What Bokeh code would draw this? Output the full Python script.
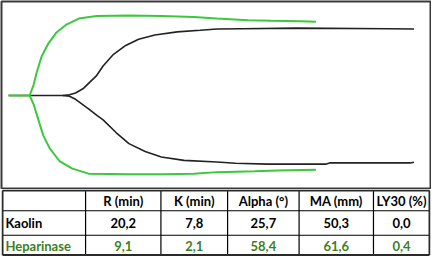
from bokeh.plotting import figure
from bokeh.layouts import column
from bokeh.models import Range1d
from bokeh.core.properties import value
from bokeh.embed import file_html
from bokeh.resources import INLINE

# ---- TEG tracing data (time in min, amplitude in mm) ----
hep_up_t = [1.77, 9.0, 10.33, 11.43, 13.1, 15.33, 18.1, 21.43, 25.9, 32.0, 43.0, 54.33, 65.33, 73.33, 84.0, 92.0, 102.0, 107.33]
hep_up_a = [0, 0, 4.07, 8.99, 15.17, 20.09, 24.42, 27.49, 29.97, 30.97, 31.19, 30.97, 30.6, 29.97, 29.34, 29.12, 28.97, 28.75]
hep_lo_t = [9.0, 10.33, 12.0, 13.67, 15.9, 19.23, 23.67, 29.23, 43.0, 54.33, 65.33, 73.33, 86.33, 94.0, 107.33]
hep_lo_a = [0, -3.33, -9.51, -15.54, -20.61, -25.53, -28.49, -30.45, -30.71, -30.71, -30.45, -29.86, -29.49, -29.23, -28.97]

kao_up_t = [1.77, 20.33, 22.67, 24.77, 27.57, 29.23, 32.0, 34.23, 37.57, 42.0, 46.43, 52.0, 59.67, 67.57, 73.33, 81.9, 100.67, 132.0, 141.0]
kao_up_a = [0, 0, 0.26, 1.0, 2.85, 4.7, 7.77, 11.47, 15.8, 19.5, 21.94, 23.57, 24.79, 25.42, 25.9, 26.0, 26.27, 26.0, 25.9]
kao_lo_t = [20.33, 22.67, 24.77, 29.23, 32.0, 34.23, 38.67, 43.1, 48.67, 54.23, 62.0, 73.33, 79.67, 90.67, 110.67, 112.0, 139.67, 141.0]
kao_lo_a = [0, -0.26, -1.48, -5.18, -7.66, -9.51, -14.43, -18.76, -21.83, -23.94, -25.27, -25.9, -26.38, -26.75, -26.75, -26.27, -26.27, -26.0]

# ---- table data ----
headers = ["R (min)", "K (min)", "Alpha (°)", "MA (mm)", "LY30 (%)"]
row_labels = ["Kaolin", "Heparinase"]
kaolin_vals = [20.2, 7.8, 25.7, 50.3, 0.0]
heparinase_vals = [9.1, 2.1, 58.4, 61.6, 0.4]

GREEN_LINE = "#3cc83c"
BLACK_LINE = "#222222"
GREEN_TEXT = "#3d7f22"
FONT = "Lato"
FSIZE = "13px"

# ---- chart ----
chart = figure(width=431, height=189, x_range=Range1d(-0.667, 146.67), y_range=Range1d(-36.63, 36.63),
               output_backend="svg", toolbar_location=None,
               min_border_left=1, min_border_right=1, min_border_top=1, min_border_bottom=0)
chart.xaxis.visible = False
chart.yaxis.visible = False
chart.grid.visible = False
chart.outline_line_color = "#3a3a3a"
chart.outline_line_width = 2
chart.background_fill_color = "white"
chart.border_fill_color = "white"

chart.line(kao_up_t, kao_up_a, line_color=BLACK_LINE, line_width=1.6)
chart.line(kao_lo_t, kao_lo_a, line_color=BLACK_LINE, line_width=1.6)
chart.line(hep_up_t, hep_up_a, line_color=GREEN_LINE, line_width=2)
chart.line(hep_lo_t, hep_lo_a, line_color=GREEN_LINE, line_width=2)

# ---- table ----
tbl = figure(width=431, height=67, x_range=Range1d(0.97, 445.03), y_range=Range1d(270.5, 199.5),
             output_backend="svg", toolbar_location=None, min_border=0)
tbl.xaxis.visible = False
tbl.yaxis.visible = False
tbl.grid.visible = False
tbl.outline_line_color = None
tbl.background_fill_color = "white"
tbl.border_fill_color = "white"

col_edges = [2, 88, 166, 235, 309, 386, 444]
row_edges = [200.5, 222, 248, 269]
row_mid = [211.5, 235.3, 259.3]

# inner lines
tbl.segment(x0=col_edges[1:-1], y0=[row_edges[0]] * 5, x1=col_edges[1:-1], y1=[row_edges[-1]] * 5,
            line_color="black", line_width=1.2)
tbl.segment(x0=[col_edges[0]] * 2, y0=row_edges[1:3], x1=[col_edges[-1]] * 2, y1=row_edges[1:3],
            line_color="black", line_width=1.2)
# outer lines
tbl.segment(x0=[col_edges[0], col_edges[-1]], y0=[row_edges[0]] * 2, x1=[col_edges[0], col_edges[-1]],
            y1=[row_edges[-1]] * 2, line_color="#2a2a2a", line_width=2)
tbl.segment(x0=[col_edges[0]] * 2, y0=[row_edges[0], row_edges[-1]], x1=[col_edges[-1]] * 2,
            y1=[row_edges[0], row_edges[-1]], line_color="#2a2a2a", line_width=2)

centers = [(col_edges[i] + col_edges[i + 1]) / 2 for i in range(1, 6)]

def fmt(v):
    return f"{v:.1f}".replace(".", ",")

common = dict(text_baseline="middle", text_font=value(FONT), text_font_style="bold", text_font_size=FSIZE)
tbl.text(x=centers, y=[row_mid[0]] * 5, text=headers, text_align="center", text_color="black", **common)
tbl.text(x=centers, y=[row_mid[1]] * 5, text=[fmt(v) for v in kaolin_vals], text_align="center",
         text_color="black", **common)
tbl.text(x=centers, y=[row_mid[2]] * 5, text=[fmt(v) for v in heparinase_vals], text_align="center",
         text_color=GREEN_TEXT, **common)
tbl.text(x=[5, 5], y=row_mid[1:], text=row_labels, text_align="left", text_color=["black", GREEN_TEXT], **common)

p = column(chart, tbl, spacing=0)
open("out.html", "w").write(file_html(p, INLINE))
